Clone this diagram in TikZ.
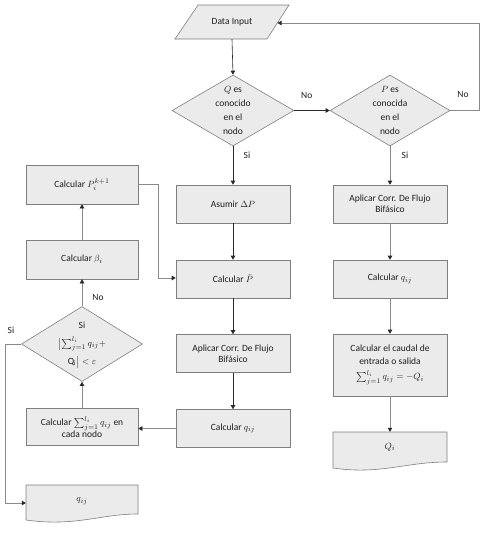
\documentclass[tikz,border=0pt]{standalone}
\usepackage{fontspec}
\setmainfont{Carlito}
\usetikzlibrary{shapes.geometric,arrows.meta,calc}
\definecolor{boxfill}{HTML}{EBEBEB}
\definecolor{boxline}{HTML}{7F7F7F}
\definecolor{darkline}{HTML}{2A2A2A}
\definecolor{greyline}{HTML}{8A8A8A}
\definecolor{txtcol}{HTML}{1E1E1E}
\begin{document}
\begin{tikzpicture}[x=1pt,y=1pt,
  every node/.style={font=\fontsize{9.5}{14}\selectfont, text=txtcol},
  procbox/.style={draw=boxline, fill=boxfill, line width=0.6pt, minimum width=114pt, minimum height=38pt, inner sep=2pt, align=center},
  diabox/.style={draw=boxline, fill=boxfill, line width=0.6pt, shape=diamond, inner sep=0pt},
  plainbox/.style={draw=none, inner sep=0pt, align=center},
  shapeline/.style={draw=boxline, fill=boxfill, line width=0.6pt},
  darkarrow/.style={draw=darkline, line width=0.6pt, -{Triangle[length=4pt,width=4.5pt]}},
  greyarrow/.style={draw=greyline, line width=0.6pt, arrows={-{Triangle[length=4pt,width=4.5pt,color=darkline]}}},
  lbl/.style={inner sep=1pt}
]
\useasboundingbox (0,0) rectangle (484,-533);

% Data input parallelogram
\draw[shapeline] (175,-39) -- (267,-39) -- (289,-5) -- (198,-5) -- cycle;
\node[plainbox, minimum width=92pt, minimum height=34pt] (in) at (232,-22) {Data Input};
\coordinate (inE) at (277.5,-23);

% Diamonds
\node[diabox, minimum width=122pt, minimum height=71pt] (q) at (233,-110.5) {};
\node[plainbox] at (q) {$Q$ es\\conocido\\en el\\nodo};
\node[diabox, minimum width=120pt, minimum height=71pt] (p) at (390,-110.5) {};
\node[plainbox] at (p) {$P$ es\\conocida\\en el\\nodo};

% Middle column
\node[procbox] (asumir) at (233,-204) {Asumir $\Delta P$};
\node[procbox] (pbar) at (233,-279) {Calcular $\bar{P}$};
\node[procbox] (apl1) at (233,-353.5) {Aplicar Corr. De Flujo\\[-3pt]Bifásico};
\node[procbox] (qij1) at (233,-428.5) {Calcular $q_{ij}$};

% Right column
\node[procbox] (apl2) at (390,-204) {Aplicar Corr. De Flujo\\[-3pt]Bifásico};
\node[procbox] (qij2) at (390,-279) {Calcular $q_{ij}$};
\node[procbox, minimum height=62pt] (caudal) at (390,-365) {Calcular el caudal de\\[-1pt]entrada o salida\\[1pt]$\sum_{j=1}^{l_i} q_{ij} = -Q_i$};
\node[plainbox, minimum width=114pt, minimum height=30pt] (Qi) at (390,-447) {};
\draw[shapeline] (333,-432) -- (447,-432) -- (447,-462) .. controls (405,-462) and (380,-475) .. (333,-468) -- cycle;
\node[plainbox] at (390,-447) {$Q_i$};

% Left column
\node[procbox, minimum width=112pt, minimum height=39pt] (pk) at (82,-184.5) {Calcular $P_i^{k+1}$};
\node[procbox, minimum width=112pt, minimum height=39pt] (beta) at (82,-259.5) {Calcular $\beta_i$};
\node[diabox, minimum width=121pt, minimum height=75pt] (conv) at (82,-344) {};
\node[plainbox] at (82,-345) {Si\\[4pt]$\bigl|\sum_{j=1}^{l_i} q_{ij}+$\\[4pt]$\mathrm{Q_i}\bigr|<\varepsilon$};
\node[procbox, minimum width=112pt, minimum height=37pt] (sigma) at (82,-427) {Calcular $\sum_{j=1}^{l_i} q_{ij}$ en\\[-2pt]cada nodo};
\node[plainbox, minimum width=112pt, minimum height=36pt] (qdoc) at (82,-503) {};
\draw[shapeline] (26,-485) -- (138,-485) -- (138,-514) .. controls (100,-514) and (75,-527) .. (26,-520) -- cycle;
\node[plainbox] at (82,-501) {$q_{ij}$};

% Connectors
\draw[darkarrow] (in.south) -- (q.north);
\draw[darkarrow] (q.east) -- (p.west) node[lbl, pos=0.35, above=11pt] {No};
\draw[greyarrow] (p.east) -- (479,-110.5) coordinate (fb1) -- (479,-23) coordinate (fb2) -- (inE);
\node[lbl] at (463,-94) {No};
\draw[darkarrow] (q.south) -- (asumir.north);
\node[lbl] at (247,-155) {Si};
\draw[greyarrow] (p.south) -- (apl2.north);
\node[lbl] at (405,-155) {Si};
\draw[darkarrow] (asumir) -- (pbar);
\draw[darkarrow] (pbar) -- (apl1);
\draw[darkarrow] (apl1) -- (qij1);
\draw[greyarrow] (apl2) -- (qij2);
\draw[greyarrow] (qij2) -- (caudal);
\draw[greyarrow] (caudal.south) -- (Qi.north);
\draw[greyarrow] (qij1.west) -- (sigma.east |- qij1.west);
\draw[greyarrow] (sigma.north) -- (conv.south);
\draw[greyarrow] (conv.north) -- (beta.south);
\node[lbl] at (98,-297) {No};
\draw[greyarrow] (beta.north) -- (pk.south);
\draw[greyarrow] (pk.east |- 0,-184) -- (158,-184) -- (158,-278) -- (pbar.west |- 0,-278);
\draw[greyarrow] (conv.west) -- (5,-344) -- (5,-503) -- (qdoc.west);
\node[lbl] at (11,-330) {Si};
\end{tikzpicture}
\end{document}
